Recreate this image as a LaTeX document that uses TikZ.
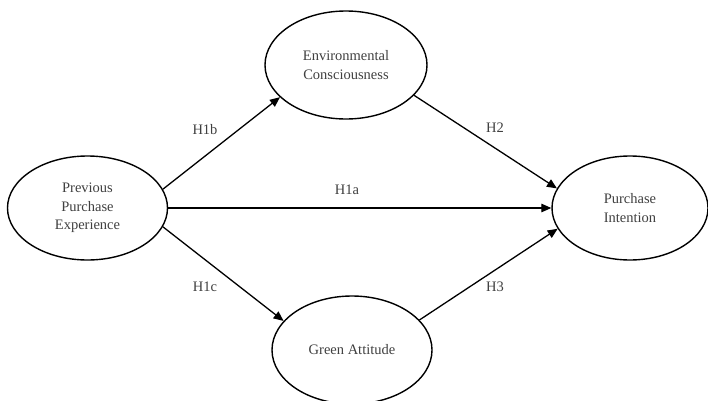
\documentclass[tikz,border=0pt]{standalone}
\usepackage{fontspec}
\setmainfont{Liberation Serif}
\usetikzlibrary{shapes.geometric,arrows.meta}
\begin{document}
\begin{tikzpicture}[x=1pt,y=1pt,
  construct/.style={ellipse,draw=black,line width=1.4pt,minimum width=160pt,minimum height=104pt,inner sep=0pt,align=center,text=black!75,font=\fontsize{14.5}{18.5}\selectfont},
  lbl/.style={text=black!75,font=\fontsize{14.5}{17}\selectfont,inner sep=0pt},
  path/.style={line width=1.3pt,-{Triangle[length=10pt,width=8.5pt]}}]
\useasboundingbox (0,0) rectangle (708,400);
\fill[white] (0,0) rectangle (708,400);
\node[construct] (L) at (87.5,192) {Previous\\Purchase\\Experience};
\node[construct,minimum width=162pt,minimum height=108pt] (T) at (346,335) {Environmental\\Consciousness};
\node[construct,minimum height=108pt] (B) at (352,50) {Green Attitude};
\node[construct,minimum width=156pt] (R) at (630,192) {Purchase\\Intention};
\draw[path] (L.14) -- (T.206);
\draw[path] (L.0) -- (R.180);
\draw[path] (L.-14) -- (B.157);
\draw[path] (T.-24) -- (R.165);
\draw[path] (B.24) -- (R.196);
\node[lbl] (h1b) at (205,270) {H1b};
\node[lbl] (h1a) at (347,210) {H1a};
\node[lbl] (h1c) at (205,113) {H1c};
\node[lbl] (h2) at (495,272) {H2};
\node[lbl] (h3) at (495,113) {H3};
\end{tikzpicture}
\end{document}
